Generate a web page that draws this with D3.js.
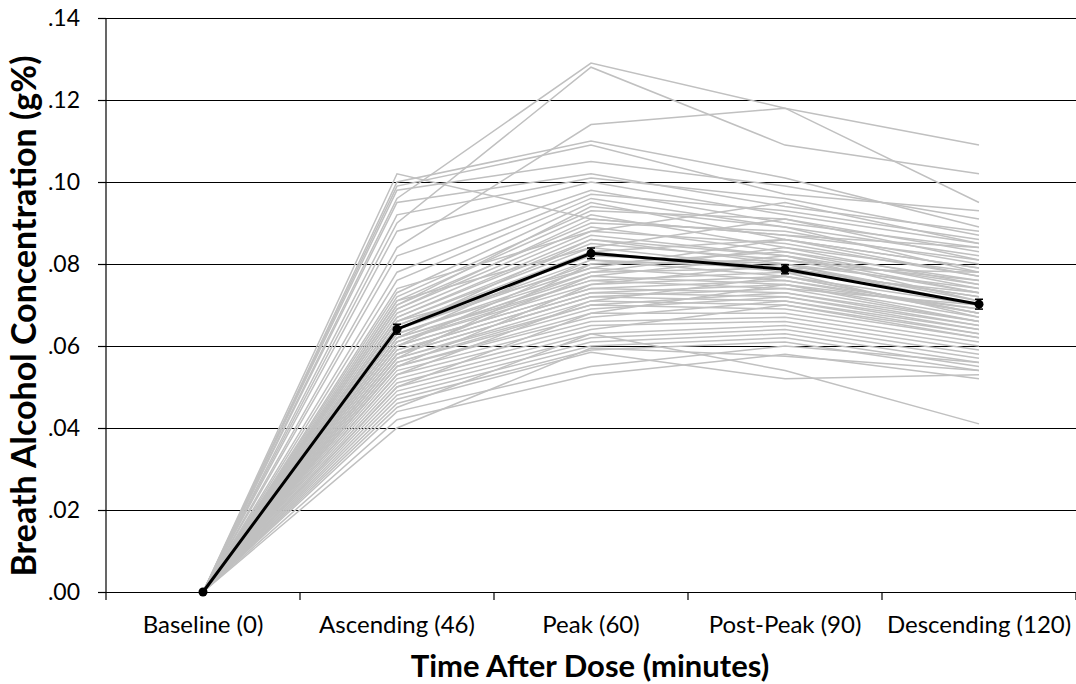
<!DOCTYPE html>
<html>
<head>
<meta charset="utf-8">
<script src="https://cdn.jsdelivr.net/npm/d3@7"></script>
<style>
  body { margin: 0; background: #fff; }
  text { font-family: Lato, "Open Sans", sans-serif; fill: #000; }
</style>
</head>
<body>
<div id="my_dataviz"></div>
<script>

// categories along x
var categories = ["Baseline (0)", "Ascending (46)", "Peak (60)", "Post-Peak (90)", "Descending (120)"];
var yTicks = [0, 0.02, 0.04, 0.06, 0.08, 0.10, 0.12, 0.14];

// group mean and standard error
var meanBAC = [0, 0.0641, 0.0826, 0.0787, 0.0702];
var meanSE  = [0, 0.0012, 0.0013, 0.0011, 0.0012];

// each participant: ascending, peak, post-peak, descending (baseline is .00)
var subjects = [
  [.096, .129, .118, .095],
  [.090, .128, .109, .102],
  [.084, .114, .118, .109],
  [.102, .091, .087, .081],
  [.100, .110, .101, .089],
  [.099, .109, .097, .093],
  [.098, .105, .099, .091],
  [.095, .102, .094, .088],
  [.092, .101, .096, .087],
  [.088, .100, .092, .085],
  [.082, .098, .090, .084],
  [.078, .097, .093, .086],
  [.076, .096, .089, .082],
  [.073, .095, .086, .079],
  [.072, .093, .091, .081],
  [.071, .092, .084, .078],
  [.070, .090, .088, .080],
  [.069, .089, .083, .076],
  [.068, .088, .085, .077],
  [.067, .087, .082, .075],
  [.067, .086, .080, .074],
  [.066, .085, .081, .076],
  [.066, .084, .079, .072],
  [.065, .083, .078, .073],
  [.065, .082, .080, .071],
  [.064, .081, .077, .070],
  [.064, .080, .083, .074],
  [.063, .079, .076, .068],
  [.063, .078, .079, .072],
  [.062, .077, .075, .069],
  [.062, .076, .078, .067],
  [.061, .076, .074, .070],
  [.061, .075, .077, .068],
  [.060, .074, .073, .066],
  [.060, .074, .076, .069],
  [.059, .073, .072, .065],
  [.059, .073, .075, .067],
  [.058, .072, .071, .064],
  [.058, .072, .074, .066],
  [.057, .071, .070, .063],
  [.057, .070, .073, .065],
  [.056, .070, .069, .062],
  [.056, .069, .072, .064],
  [.055, .068, .068, .061],
  [.055, .067, .071, .063],
  [.054, .066, .067, .060],
  [.053, .065, .066, .059],
  [.052, .064, .070, .062],
  [.051, .063, .065, .058],
  [.050, .062, .064, .057],
  [.049, .061, .063, .056],
  [.048, .060, .062, .055],
  [.047, .059, .061, .054],
  [.046, .0585, .052, .053],
  [.045, .063, .054, .041],
  [.044, .055, .060, .056],
  [.042, .053, .058, .052],
  [.040, .0595, .0575, .054],
  [.071, .084, .091, .083],
  [.069, .091, .087, .084],
  [.066, .079, .086, .079],
  [.064, .086, .082, .073],
  [.062, .083, .086, .077],
  [.061, .078, .084, .075],
  [.060, .081, .079, .078],
  [.058, .077, .082, .071],
  [.057, .080, .081, .073],
  [.055, .075, .080, .070],
  [.053, .071, .077, .068],
  [.050, .068, .075, .066],
  [.074, .088, .095, .085],
  [.070, .094, .089, .078]
];

var margin = {top: 18, right: 0, bottom: 92, left: 106},
    width = 1076 - margin.left - margin.right,
    height = 684 - margin.top - margin.bottom;

var svg = d3.select("#my_dataviz")
  .append("svg")
    .attr("width", width + margin.left + margin.right)
    .attr("height", height + margin.top + margin.bottom)
  .append("g")
    .attr("transform", "translate(" + margin.left + "," + margin.top + ")");

var x = d3.scaleBand()
  .domain(categories)
  .range([0, width]);
var cx = function(c) { return x(c) + x.bandwidth() / 2; };

var y = d3.scaleLinear()
  .domain([0, 0.14])
  .range([height, 0]);

var fmt = function(d) { return d3.format(".2f")(d).replace(/^0/, ""); };

// gridlines
svg.append("g")
  .call(d3.axisLeft(y).tickValues(yTicks).tickSize(-width).tickFormat(""))
  .call(function(g) {
    g.select(".domain").remove();
    g.selectAll(".tick line").attr("stroke", "#000").attr("stroke-width", 1.2);
  });

// y axis with labels
svg.append("g")
  .call(d3.axisLeft(y).tickValues(yTicks).tickSize(8).tickPadding(18).tickFormat(fmt))
  .call(function(g) {
    g.select(".domain").remove();
    g.selectAll(".tick line").attr("stroke", "#000").attr("stroke-width", 1.2);
    g.selectAll("text").style("font-size", "23px").attr("font-family", "Lato");
  });

// x axis labels (no ticks, ticks at band edges below)
svg.append("g")
  .attr("transform", "translate(0," + height + ")")
  .call(d3.axisBottom(x).tickSize(0).tickPadding(24))
  .call(function(g) {
    g.select(".domain").remove();
    g.selectAll("text").style("font-size", "24px").attr("font-family", "Lato");
  });

var edges = categories.map(function(c) { return x(c); }).concat([width]);
svg.selectAll("edgeTick")
  .data(edges)
  .enter()
  .append("line")
    .attr("x1", function(d) { return d; })
    .attr("x2", function(d) { return d; })
    .attr("y1", height)
    .attr("y2", height + 8)
    .attr("stroke", "#000")
    .attr("stroke-width", 1.2);

// y axis line
svg.append("line")
  .attr("x1", 0).attr("x2", 0)
  .attr("y1", 0).attr("y2", height)
  .attr("stroke", "#000")
  .attr("stroke-width", 1.2);

// individual participants
var line = d3.line()
  .x(function(d, i) { return cx(categories[i]); })
  .y(function(d) { return y(d); });

svg.selectAll("subjectLines")
  .data(subjects)
  .enter()
  .append("path")
    .attr("d", function(d) { return line([0].concat(d)); })
    .attr("fill", "none")
    .attr("stroke", "#c0c0c0")
    .attr("stroke-width", 1.5);

// mean line
svg.append("path")
  .attr("d", line(meanBAC))
  .attr("fill", "none")
  .attr("stroke", "#000")
  .attr("stroke-width", 3);

// error bars
var eb = svg.selectAll("errBar")
  .data(meanBAC.map(function(d, i) { return {c: categories[i], m: d, se: meanSE[i]}; }))
  .enter()
  .append("g");
eb.append("line")
  .attr("x1", function(d) { return cx(d.c); })
  .attr("x2", function(d) { return cx(d.c); })
  .attr("y1", function(d) { return y(d.m + d.se); })
  .attr("y2", function(d) { return y(d.m - d.se); })
  .attr("stroke", "#000").attr("stroke-width", 1.5);
[1, -1].forEach(function(s) {
  eb.filter(function(d) { return d.se > 0; })
    .append("line")
    .attr("x1", function(d) { return cx(d.c) - 4; })
    .attr("x2", function(d) { return cx(d.c) + 4; })
    .attr("y1", function(d) { return y(d.m + s * d.se); })
    .attr("y2", function(d) { return y(d.m + s * d.se); })
    .attr("stroke", "#000").attr("stroke-width", 1.5);
});

svg.selectAll("meanDots")
  .data(meanBAC)
  .enter()
  .append("circle")
    .attr("cx", function(d, i) { return cx(categories[i]); })
    .attr("cy", function(d) { return y(d); })
    .attr("r", 4.5)
    .attr("fill", "#000");

// axis titles
svg.append("text")
  .attr("text-anchor", "middle")
  .attr("x", width / 2 - 1)
  .attr("y", height + 85)
  .style("font-size", "31px")
  .style("font-weight", "bold")
  .text("Time After Dose (minutes)");

svg.append("text")
  .attr("text-anchor", "middle")
  .attr("transform", "translate(" + (-70) + "," + (height / 2 + 11) + ") rotate(-90)")
  .style("font-size", "34px")
  .style("font-weight", "bold")
  .text("Breath Alcohol Concentration (g%)");

</script>
</body>
</html>
